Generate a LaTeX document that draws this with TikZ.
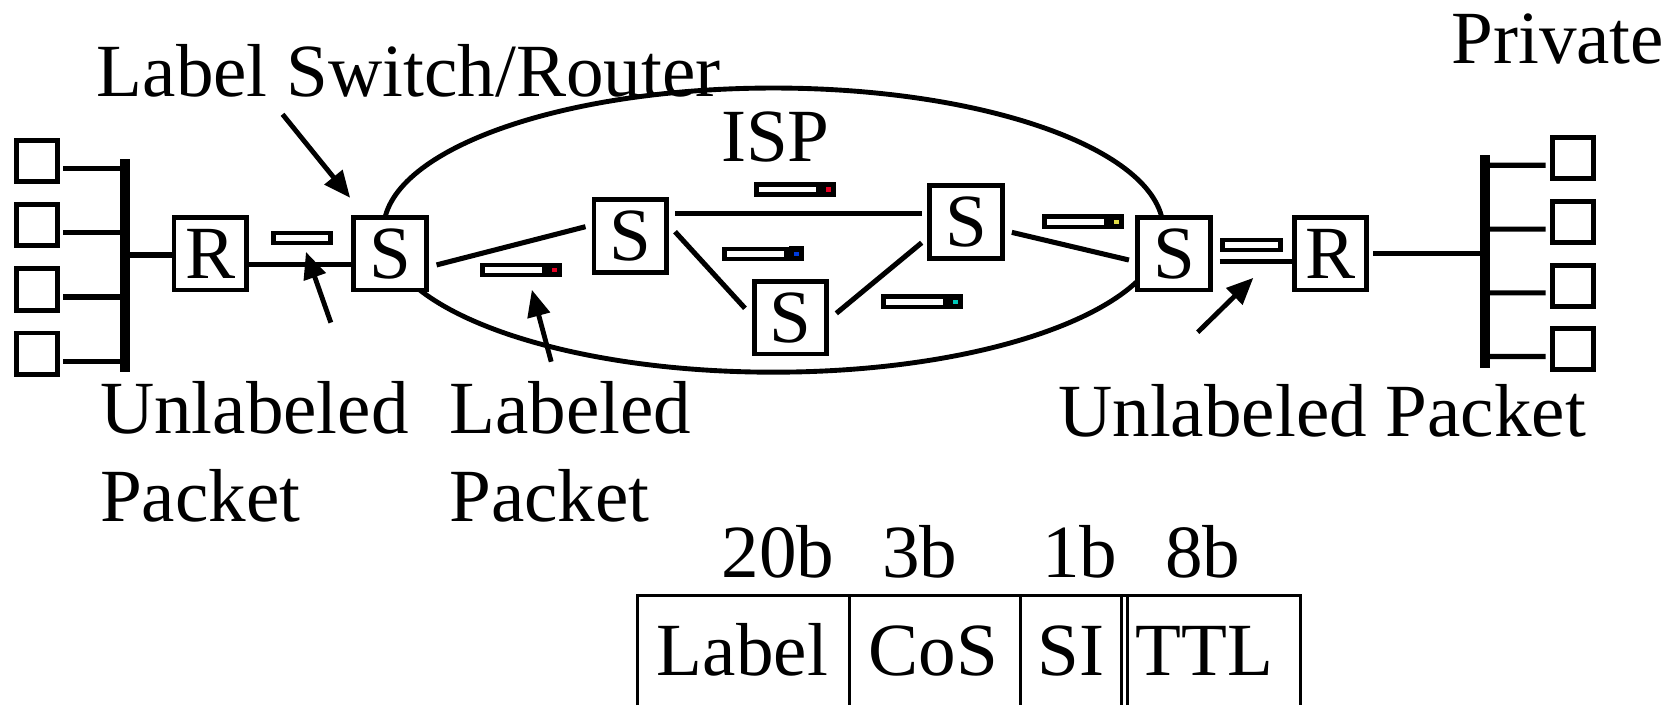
\documentclass[tikz,border=0pt]{standalone}
\usepackage{fontspec}
\setmainfont{Liberation Serif}
\usetikzlibrary{arrows.meta}

\definecolor{pktred}{RGB}{230,0,35}
\definecolor{pktblue}{RGB}{0,60,220}
\definecolor{pktcyan}{RGB}{0,200,185}
\definecolor{pktyellow}{RGB}{225,220,70}

\begin{document}
\begin{tikzpicture}[font=\fontsize{20}{23.5}\selectfont]

    \def\busleft{1.17}
    \def\busright{13.905}
    \def\tabletop{1.03}

    % Styles
    \tikzstyle{txt}=[inner sep=0pt]
    \tikzstyle{host}=[draw, line width=1.3pt, minimum size=0.385cm, inner sep=0pt]
    \tikzstyle{sw}=[draw, fill=white, line width=1.25pt, minimum size=0.68cm, inner sep=0pt]
    \tikzstyle{bus}=[line width=2.7pt]
    \tikzstyle{link}=[line width=1.35pt]
    \tikzstyle{ring}=[line width=1.3pt]
    \tikzstyle{pkt}=[draw, fill=white, line width=1.25pt, minimum width=0.58cm, minimum height=0.095cm, inner sep=0pt]
    \tikzstyle{pkttag}=[draw, line width=1.4pt, minimum width=0.095cm, minimum height=0.09cm, inner sep=0pt, anchor=west]
    \tikzstyle{pointer}=[line width=1.3pt, -{Triangle[length=0.25cm, width=0.21cm]}]
    \tikzstyle{field}=[line width=0.8pt]

    \useasboundingbox (0,0) rectangle (15.68,6.60);

    % ISP cloud
    \draw[ring] (7.24,4.446) ellipse [x radius=3.65, y radius=1.33];
    \node[txt, anchor=base] (isplabel) at (7.258,5.086) {ISP};

    % left site
    \draw[bus] (\busleft,5.11) coordinate (busltop) -- (\busleft,3.12) coordinate (buslbot);
    \foreach \y [count=\i] in {5.09,4.494,3.89,3.29} {
        \node[host] (hl\i) at (0.346,\y) {};
        \draw[link] ([shift={(0.03,-0.07)}]hl\i.east) -- ([yshift=-0.07cm]hl\i.east -| busltop);
    }
    \node[sw] (r1) at (1.969,4.224) {R};
    \draw[link] ([yshift=-0.011cm]r1.west -| busltop) -- ([yshift=-0.011cm]r1.west);

    % right site
    \draw[bus] (\busright,5.148) coordinate (busrtop) -- (\busright,3.151) coordinate (busrbot);
    \foreach \y [count=\i] in {5.12,4.522,3.925,3.33} {
        \node[host] (hr\i) at (14.725,\y) {};
        \draw[link] ([shift={(-0.04,-0.067)}]hr\i.west) -- ([yshift=-0.067cm]hr\i.west -| busrtop);
    }
    \node[sw] (r2) at (12.455,4.225) {R};
    \draw[link] ([xshift=0.036cm]r2.east) -- (r2.east -| busrtop);

    % label switches
    \node[sw] (s1) at (3.65,4.226) {S};
    \node[sw] (s2) at (5.90,4.39) {S};
    \node[sw] (s3) at (7.40,3.625) {S};
    \node[sw] (s4) at (9.043,4.523) {S};
    \node[sw] (s5) at (10.99,4.226) {S};

    % links
    \draw[link] ([yshift=-0.096cm]r1.east) -- ([yshift=-0.096cm]r1.east -| s1.west);
    \draw[link] ([shift={(0.075,-0.106)}]s1.east) -- ([shift={(-0.057,0.088)}]s2.west);
    \draw[link] ([shift={(0.057,0.213)}]s2.east) -- ([shift={(-0.053,0.08)}]s4.west);
    \draw[link] ([shift={(0.057,0.041)}]s2.east) -- ([shift={(-0.064,0.089)}]s3.west);
    \draw[link] ([shift={(0.067,0.042)}]s3.east) -- ([shift={(-0.053,-0.195)}]s4.west);
    \draw[link] ([shift={(0.067,-0.098)}]s4.east) -- ([shift={(-0.06,-0.06)}]s5.west);
    \draw[link] ([shift={(0.064,-0.076)}]s5.east) -- ([yshift=-0.076cm]s5.east -| r2.west);

    % packets
    \node[pkt, minimum width=0.53cm] (pkl) at (2.827,4.372) {};
    \node[pkt, minimum width=0.545cm] (pkr) at (11.714,4.307) {};
    \foreach \x/\y/\c [count=\i] in {4.475/4.072/pktred, 7.035/4.825/pktred, 6.736/4.223/pktblue,
                                     8.229/3.775/pktcyan, 9.733/4.523/pktyellow} {
        \node[pkt, anchor=west] (p\i) at (\x+0.022,\y) {};
        \node[pkttag, fill=\c] (t\i) at (p\i.east) {};
    }

    % labels and pointers
    \node[txt, anchor=base west] (lsrlabel) at (0.90,5.695) {Label Switch/Router};
    \node[txt, anchor=base west] (privlabel) at (13.58,6.007) {Private};
    \node[txt, anchor=base west, align=left] (ulabl) at (0.93,1.716) {Unlabeled\\Packet};
    \node[txt, anchor=base west, align=left] (labl) at (4.20,1.716) {Labeled\\Packet};
    \node[txt, anchor=base west] (ulabr) at (9.90,2.512) {Unlabeled Packet};

    \coordinate (lsrfoot) at (2.645,5.53);
    \coordinate (ulfoot) at (3.097,3.58);
    \coordinate (lfoot) at (5.16,3.214);
    \coordinate (urfoot) at (11.212,3.49);
    \draw[pointer] (lsrfoot) -- ([shift={(-0.01,0.16)}]s1.north west);
    \draw[pointer] (ulfoot) -- ([shift={(0.037,-0.06)}]pkl.south);
    \draw[pointer] (lfoot) -- ([shift={(0.17,-0.115)}]p1.south);
    \draw[pointer] (urfoot) -- ([shift={(0.019,-0.238)}]pkr.south);

    % label header
    \foreach \x/\t [count=\i] in {6.75/20b, 8.25/3b, 9.75/1b, 10.90/8b}
        \node[txt, anchor=base west] (bits\i) at (\x,1.197) {\t};
    \draw[field] (5.97,0) -- (5.97,\tabletop) -- (12.17,\tabletop) -- (12.17,0);
    \foreach \x in {7.95,9.55,10.50,10.55}
        \draw[field] (\x,\tabletop) -- (\x,0);
    \foreach \x/\t [count=\i] in {6.95/Label, 8.735/CoS, 10.025/SI, 11.275/TTL}
        \node[txt, anchor=base] (field\i) at (\x,0.28) {\t};

\end{tikzpicture}
\end{document}
